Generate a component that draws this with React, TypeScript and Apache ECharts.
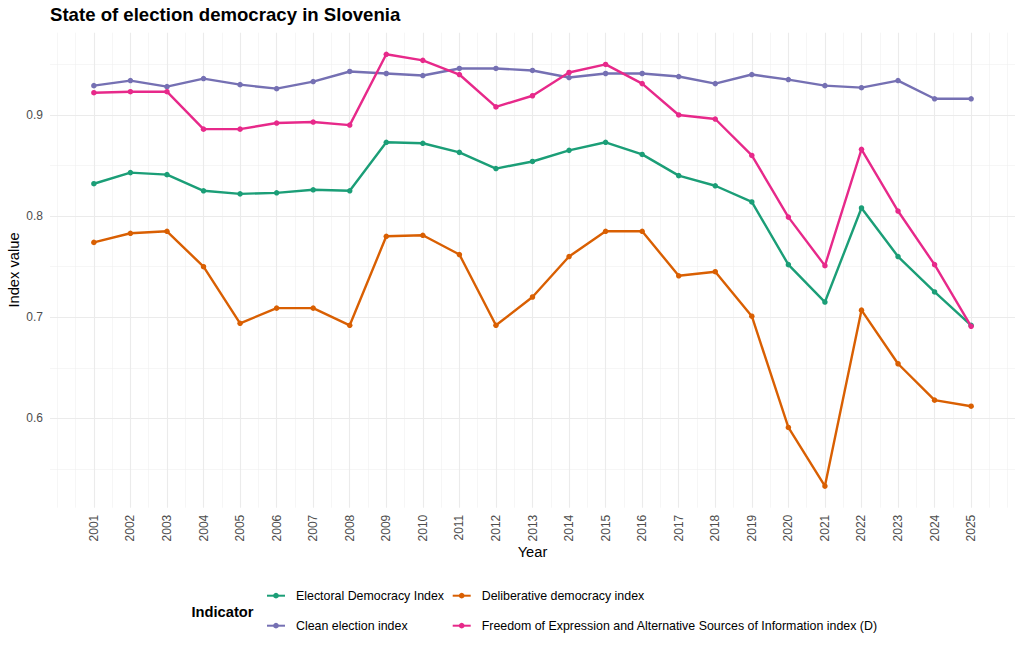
import React, { useEffect, useRef } from "react";
import * as echarts from "echarts";

const years = [2001, 2002, 2003, 2004, 2005, 2006, 2007, 2008, 2009, 2010, 2011, 2012, 2013, 2014, 2015, 2016, 2017, 2018, 2019, 2020, 2021, 2022, 2023, 2024, 2025];

const electoral = [0.832, 0.843, 0.841, 0.825, 0.822, 0.823, 0.826, 0.825, 0.873, 0.872, 0.863, 0.847, 0.854, 0.865, 0.873, 0.861, 0.840, 0.830, 0.814, 0.752, 0.715, 0.808, 0.760, 0.725, 0.692];
const deliberative = [0.774, 0.783, 0.785, 0.750, 0.694, 0.709, 0.709, 0.692, 0.780, 0.781, 0.762, 0.692, 0.720, 0.760, 0.785, 0.785, 0.741, 0.745, 0.701, 0.591, 0.533, 0.707, 0.654, 0.618, 0.612];
const clean = [0.929, 0.934, 0.928, 0.936, 0.930, 0.926, 0.933, 0.943, 0.941, 0.939, 0.946, 0.946, 0.944, 0.937, 0.941, 0.941, 0.938, 0.931, 0.940, 0.935, 0.929, 0.927, 0.934, 0.916, 0.916];
const freedom = [0.922, 0.923, 0.923, 0.886, 0.886, 0.892, 0.893, 0.890, 0.960, 0.954, 0.940, 0.908, 0.919, 0.942, 0.950, 0.931, 0.900, 0.896, 0.860, 0.799, 0.751, 0.866, 0.805, 0.752, 0.691];

const seriesNames = [
  "Electoral Democracy Index",
  "Deliberative democracy index",
  "Clean election index",
  "Freedom of Expression and Alternative Sources of Information index (D)",
];
const seriesColors = ["#1B9E77", "#D95F02", "#7570B3", "#E7298A"];
const seriesValues = [electoral, deliberative, clean, freedom];

const yTickValues = [0.6, 0.7, 0.8, 0.9];
const yMinorValues = [0.55, 0.65, 0.75, 0.85, 0.95];
const xMinorValues = [2000, 2000.5, 2001.5, 2002.5, 2003.5, 2004.5, 2005.5, 2006.5, 2007.5, 2008.5, 2009.5, 2010.5, 2011.5, 2012.5, 2013.5, 2014.5, 2015.5, 2016.5, 2017.5, 2018.5, 2019.5, 2020.5, 2021.5, 2022.5, 2023.5, 2024.5, 2025.5, 2026];

const FONT = "Liberation Sans, Arial, Helvetica, sans-serif";

export default function App() {
  const ref = useRef<HTMLDivElement>(null);

  useEffect(() => {
    if (!ref.current) return;
    const chart = echarts.init(ref.current, undefined, { renderer: "svg" });

    const allVals = seriesValues.flat();
    const vMin = Math.min(...allVals);
    const vMax = Math.max(...allVals);
    const yPad = (vMax - vMin) * 0.05;
    const xPad = (years[years.length - 1] - years[0]) * 0.05;

    const majorLine = { color: "#EBEBEB", width: 1.1, type: "solid" as const };
    const minorLine = { color: "#F0F0F0", width: 0.6, type: "solid" as const };

    const gridLines = [
      ...yMinorValues.map((v) => ({ yAxis: v, lineStyle: minorLine })),
      ...xMinorValues.map((v) => ({ xAxis: v, lineStyle: minorLine })),
      ...yTickValues.map((v) => ({ yAxis: v, lineStyle: majorLine })),
      ...years.map((v) => ({ xAxis: v, lineStyle: majorLine })),
    ];

    const legendText = { fontSize: 12.4, fontFamily: FONT, color: "#000", lineHeight: 14, padding: [0, 0, 0, 6] };

    const option: any = {
      animation: false,
      grid: { left: 50, right: 9, top: 32.7, bottom: 144.3 },
      xAxis: {
        type: "value",
        min: years[0] - xPad,
        max: years[years.length - 1] + xPad,
        axisLine: { show: false },
        axisTick: { show: false },
        splitLine: { show: false },
        axisLabel: {
          customValues: years,
          rotate: 90,
          margin: 7,
          color: "#4D4D4D",
          fontSize: 12,
          fontFamily: FONT,
          formatter: (v: number) => String(v),
        },
      },
      yAxis: {
        type: "value",
        min: vMin - yPad,
        max: vMax + yPad,
        axisLine: { show: false },
        axisTick: { show: false },
        splitLine: { show: false },
        axisLabel: {
          customValues: yTickValues,
          margin: 7,
          color: "#4D4D4D",
          fontSize: 12,
          fontFamily: FONT,
          formatter: (v: number) => v.toFixed(1),
        },
      },
      legend: [
        {
          orient: "vertical",
          left: 266,
          top: 588.7,
          padding: 0,
          itemWidth: 18,
          itemHeight: 7,
          itemGap: 16,
          data: [seriesNames[0], seriesNames[2]],
          textStyle: legendText,
          selectedMode: false,
        },
        {
          orient: "vertical",
          left: 451.7,
          top: 588.7,
          padding: 0,
          itemWidth: 18,
          itemHeight: 7,
          itemGap: 16,
          data: [seriesNames[1], seriesNames[3]],
          textStyle: legendText,
          selectedMode: false,
        },
      ],
      graphic: [
        {
          type: "text",
          x: 50,
          y: 14.5,
          style: { text: "State of election democracy in Slovenia", font: `bold 18.6px ${FONT}`, fill: "#000", textAlign: "left", textVerticalAlign: "middle" },
        },
        {
          type: "text",
          x: 532.5,
          y: 552,
          style: { text: "Year", font: `14.7px ${FONT}`, fill: "#000", textAlign: "center", textVerticalAlign: "middle" },
        },
        {
          type: "text",
          x: 14,
          y: 270,
          rotation: Math.PI / 2,
          style: { text: "Index value", font: `14.7px ${FONT}`, fill: "#000", textAlign: "center", textVerticalAlign: "middle" },
        },
        {
          type: "text",
          x: 191.5,
          y: 611.7,
          style: { text: "Indicator", font: `bold 14.7px ${FONT}`, fill: "#000", textAlign: "left", textVerticalAlign: "middle" },
        },
      ],
      series: [
        {
          type: "line",
          name: "__grid",
          data: [],
          silent: true,
          z: 0,
          markLine: {
            silent: true,
            z: 0,
            symbol: ["none", "none"],
            label: { show: false },
            emphasis: { disabled: true },
            data: gridLines,
          },
        },
        ...seriesNames.map((name, i) => ({
          type: "line",
          name,
          z: 2 + i,
          data: years.map((y, j) => [y, seriesValues[i][j]]),
          symbol: "circle",
          symbolSize: 5.5,
          showSymbol: true,
          lineStyle: { color: seriesColors[i], width: 2.4 },
          itemStyle: { color: seriesColors[i] },
          emphasis: { disabled: true },
        })),
      ],
    };

    chart.setOption(option);
    return () => chart.dispose();
  }, []);

  return (
    <div
      ref={ref}
      style={{ position: "fixed", left: 0, top: 0, width: 1024, height: 652, background: "#fff" }}
    />
  );
}
